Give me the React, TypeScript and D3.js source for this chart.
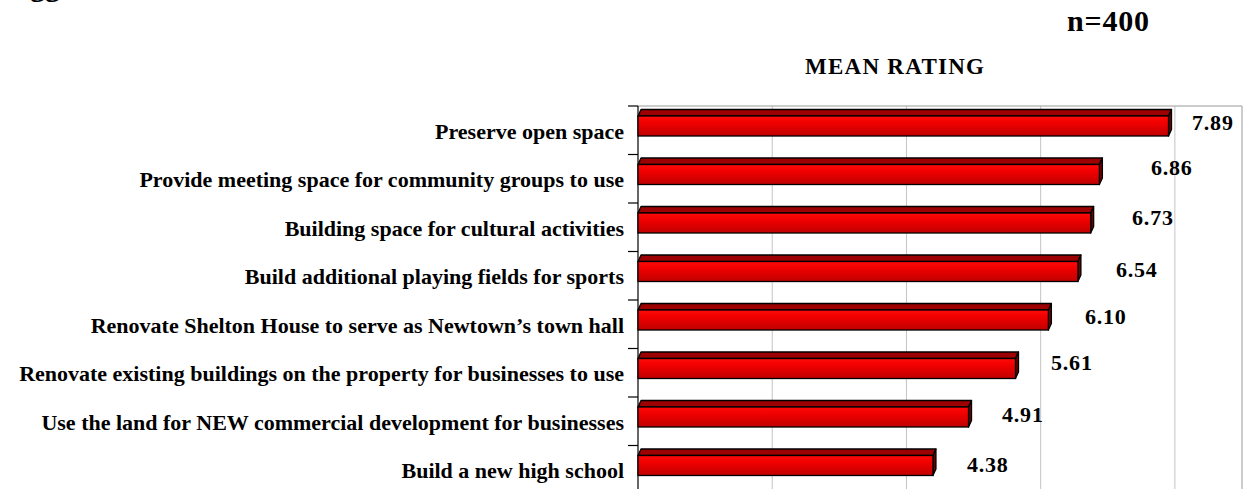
import React from "react";
import * as d3 from "d3";

const categories = [
  "Preserve open space",
  "Provide meeting space for community groups to use",
  "Building space for cultural activities",
  "Build additional playing fields for sports",
  "Renovate Shelton House to serve as Newtown\u2019s town hall",
  "Renovate existing buildings on the property for businesses to use",
  "Use the land for NEW commercial development for businesses",
  "Build a new high school",
];
const values = [7.89, 6.86, 6.73, 6.54, 6.1, 5.61, 4.91, 4.38];
const valueLabels = ["7.89", "6.86", "6.73", "6.54", "6.10", "5.61", "4.91", "4.38"];
const gridTicks = [2, 4, 6, 8];
const axisDomain = [0, 9];
const chartTitle = "MEAN RATING";
const sampleNote = "n=400";

// manual nudges of the value labels (as placed in the original)
const labelNudgeX = [24.5, 52.6, 42.4, 39, 37.5, 36.5, 34.5, 35];
const labelNudgeY = [-0.5, -3.75, -2.25, 1.25, -0.25, -2.75, 0.75, 2.25];

const W = 1245;
const H = 489;
const FONT = "'Liberation Serif', 'Times New Roman', serif";

export default function App() {
  const x = d3.scaleLinear().domain(axisDomain).range([638, 1242]);
  const y = d3.scaleBand<string>().domain(categories).range([106, 494]).padding(0);
  const bw = y.bandwidth();
  const x0 = x(0);
  const dx = 3;
  const dy = 6.5;
  const bounds = d3.range(categories.length + 1).map((i) => 106 + i * bw);

  return (
    <svg
      width={W}
      height={H}
      style={{ position: "absolute", left: 0, top: 0, background: "#fff" }}
      fontFamily={FONT}
    >
      <defs>
        <linearGradient id="front" x1="0" y1="0" x2="0" y2="1">
          <stop offset="0" stopColor="#ff0a0a" />
          <stop offset="0.35" stopColor="#f00000" />
          <stop offset="1" stopColor="#c00000" />
        </linearGradient>
      </defs>
      <rect x={0} y={0} width={W} height={H} fill="#fff" />

      {/* cut-off heading descenders, as in the original crop */}
      <text x={30} y={-4} fontSize={30} fontWeight="bold" fill="#000">
        gg
      </text>

      <text x={1067} y={31} fontSize={30} fontWeight="bold" textLength={82} lengthAdjust="spacing" fill="#000">
        {sampleNote}
      </text>
      <text x={805} y={74} fontSize={23} fontWeight="bold" textLength={179} lengthAdjust="spacing" fill="#000">
        {chartTitle}
      </text>

      {/* gridlines */}
      {gridTicks.map((t) => (
        <line key={t} x1={x(t)} x2={x(t)} y1={106} y2={494} stroke="#c4c4c4" strokeWidth={1} />
      ))}
      {/* plot border */}
      <line x1={x0} x2={x(axisDomain[1])} y1={106} y2={106} stroke="#9a9a9a" strokeWidth={1} />
      <line x1={x(axisDomain[1])} x2={x(axisDomain[1])} y1={106} y2={494} stroke="#9a9a9a" strokeWidth={1} />

      {/* category axis */}
      <line x1={x0} x2={x0} y1={106} y2={494} stroke="#000" strokeWidth={1.2} />
      {bounds.map((b, i) => (
        <line key={i} x1={628} x2={x0} y1={b} y2={b} stroke="#000" strokeWidth={1.2} />
      ))}

      {categories.map((c) => {
        const cy = (y(c) as number) + bw / 2;
        return (
          <text key={c} x={624} y={cy + 8.5} fontSize={22} fontWeight="bold" textAnchor="end" fill="#000">
            {c}
          </text>
        );
      })}

      {/* bars */}
      {categories.map((c, i) => {
        const cy = (y(c) as number) + bw / 2;
        const yT = cy - 14.25;
        const yB = cy + 5.75;
        const xv = x(values[i]) + 1;
        const top = `M${x0},${yT} L${x0 + dx},${yT - dy} L${xv + dx},${yT - dy} L${xv},${yT} Z`;
        const side = `M${xv},${yT} L${xv + dx},${yT - dy} L${xv + dx},${yB - dy} L${xv},${yB} Z`;
        return (
          <g key={c}>
            <path d={top} fill="#9c0000" stroke="#000" strokeWidth={1.3} strokeLinejoin="round" />
            <path d={side} fill="#6e0000" stroke="#000" strokeWidth={1.3} strokeLinejoin="round" />
            <rect x={x0} y={yT} width={xv - x0} height={yB - yT} fill="url(#front)" stroke="#000" strokeWidth={1.3} />
          </g>
        );
      })}

      {/* value labels */}
      {categories.map((c, i) => {
        const cy = (y(c) as number) + bw / 2;
        return (
          <text
            key={c}
            x={x(values[i]) + labelNudgeX[i]}
            y={cy + labelNudgeY[i]}
            fontSize={22}
            fontWeight="bold"
            letterSpacing={0.8}
            fill="#000"
          >
            {valueLabels[i]}
          </text>
        );
      })}
    </svg>
  );
}
